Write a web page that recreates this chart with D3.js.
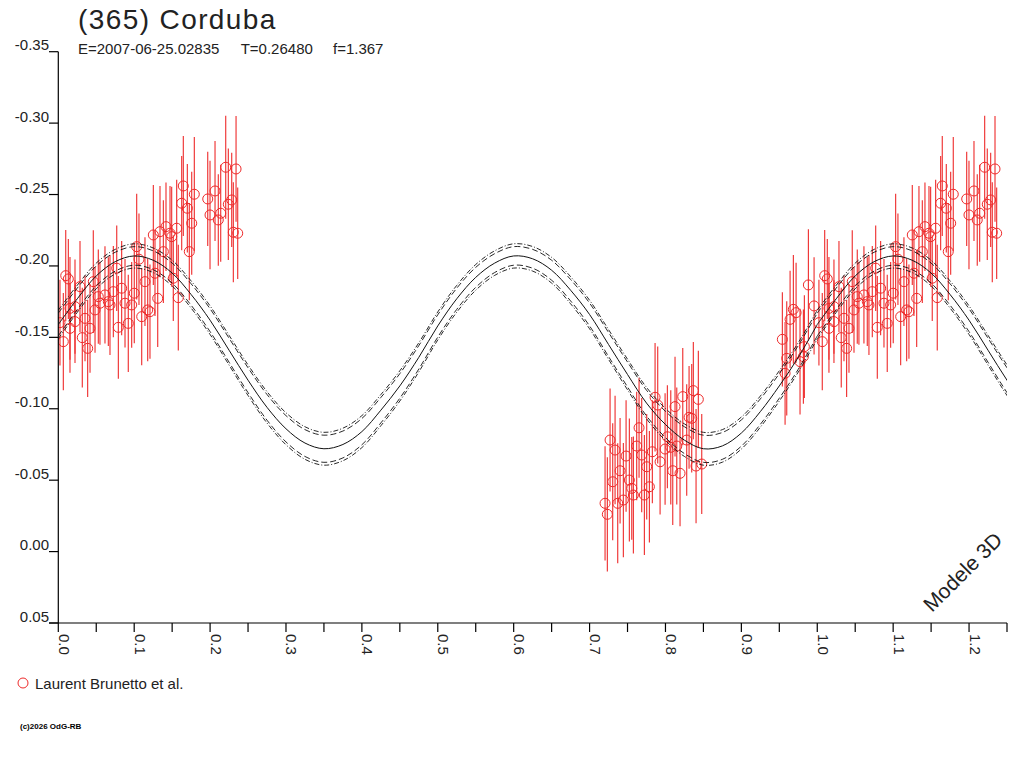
<!DOCTYPE html>
<html><head><meta charset="utf-8">
<script src="https://cdn.jsdelivr.net/npm/d3@7"></script>
<style>body{margin:0;background:#fff}</style>
</head><body>
<svg id="c" width="1024" height="768"></svg>
<script>
const titleText = "(365) Corduba";
const subtitleParts = ["E=2007-06-25.02835", "T=0.26480", "f=1.367"];
const legendLabel = "Laurent Brunetto et al.";
const modelLabel = "Modele 3D";
const credit = "(c)2026 OdG-RB";

const yTickValues = [-0.35, -0.30, -0.25, -0.20, -0.15, -0.10, -0.05, 0.00, 0.05];
const yTickLabels = ["-0.35", "-0.30", "-0.25", "-0.20", "-0.15", "-0.10", "-0.05", "0.00", "0.05"];
const xMajorTicks = [0.0, 0.1, 0.2, 0.3, 0.4, 0.5, 0.6, 0.7, 0.8, 0.9, 1.0, 1.1, 1.2];
const xTickLabels = ["0.0", "0.1", "0.2", "0.3", "0.4", "0.5", "0.6", "0.7", "0.8", "0.9", "1.0", "1.1", "1.2"];
const xMinorTicks = [0.05, 0.15, 0.25, 0.35, 0.45, 0.55, 0.65, 0.75, 0.85, 0.95, 1.05, 1.15, 1.25];

// observations: rotational phase, relative magnitude, error
const obsPhase = [
 0.0022,0.0066,0.0098,0.0132,0.0154,0.0154,0.0220,0.0220,0.0286,0.0316,
 0.0352,0.0387,0.0418,0.0461,0.0484,0.0527,0.0549,0.0615,0.0659,0.0681,
 0.0725,0.0770,0.0791,0.0835,0.0879,0.0922,0.0967,0.1001,0.1033,0.1063,
 0.1099,0.1142,0.1178,0.1208,0.1252,0.1274,0.1310,0.1340,0.1384,0.1419,
 0.1472,0.1494,0.1515,0.1560,0.1581,0.1626,0.1647,0.1700,0.1726,0.1758,
 0.1792,0.1969,0.1999,0.2065,0.2108,0.2140,0.2206,0.2240,0.2285,0.2306,
 0.2342,0.2364,
 0.7204,0.7234,0.7270,0.7305,0.7336,0.7371,0.7402,0.7445,0.7481,0.7524,
 0.7556,0.7577,0.7621,0.7652,0.7687,0.7722,0.7753,0.7788,0.7827,0.7863,
 0.7898,0.7929,0.7995,0.8025,0.8070,0.8096,0.8126,0.8149,0.8192,0.8228,
 0.8280,0.8311,0.8346,0.8367,0.8403,0.8433,0.8478,
 0.9540,0.9598,0.9576,0.9642,0.9685,0.9721,0.9773,0.9817,0.9830,0.9883,
 0.9958
];
const obsMag = [
 -0.1603,-0.1470,-0.1932,-0.1909,-0.1703,-0.1563,-0.1715,-0.1610,-0.1855,-0.1498,
 -0.1633,-0.1423,-0.1563,-0.1890,-0.1692,-0.1785,-0.1739,-0.1797,-0.1750,-0.1727,
 -0.1820,-0.1984,-0.1570,-0.1844,-0.1739,-0.1598,-0.1727,-0.1809,-0.2135,-0.2047,
 -0.1645,-0.1890,-0.1692,-0.1680,-0.2217,-0.1949,-0.1773,-0.2240,-0.2100,-0.2275,
 -0.2229,-0.2205,-0.1914,-0.2264,-0.1778,-0.2439,-0.2560,-0.2404,-0.2100,-0.2299,
 -0.2502,-0.2469,-0.2357,-0.2525,-0.2322,-0.2369,-0.2691,-0.2432,-0.2462,-0.2236,
 -0.2679,-0.2229,
 -0.0338,-0.0261,-0.0781,-0.0489,-0.0711,-0.0338,-0.0566,-0.0361,-0.0669,-0.0501,
 -0.0443,-0.0396,-0.0739,-0.0867,-0.0676,-0.0396,-0.0594,-0.0454,-0.0699,-0.1080,
 -0.1026,-0.0629,-0.0718,-0.0804,-0.0730,-0.0566,-0.1015,-0.0739,-0.0548,-0.1085,
 -0.0781,-0.0940,-0.0933,-0.1127,-0.0599,-0.1066,-0.0613,
 -0.1486,-0.1353,-0.1248,-0.1626,-0.1696,-0.1673,-0.1330,-0.1365,-0.1435,-0.1867,
 -0.1720
];
const obsErr = [
 0.030,0.034,0.032,0.028,0.036,0.031,0.033,0.029,0.032,0.035,
 0.030,0.034,0.031,0.036,0.030,0.033,0.029,0.034,0.031,0.035,
 0.032,0.030,0.036,0.033,0.031,0.034,0.030,0.035,0.037,0.032,
 0.034,0.031,0.036,0.033,0.035,0.030,0.034,0.032,0.036,0.031,
 0.033,0.035,0.030,0.034,0.037,0.033,0.035,0.031,0.034,0.036,
 0.040,0.033,0.038,0.035,0.032,0.034,0.036,0.039,0.033,0.035,
 0.037,0.032,
 0.040,0.040,0.036,0.041,0.038,0.042,0.037,0.040,0.039,0.043,
 0.036,0.041,0.038,0.035,0.040,0.042,0.037,0.039,0.036,0.038,
 0.041,0.037,0.039,0.036,0.040,0.038,0.035,0.041,0.037,0.034,
 0.039,0.036,0.038,0.034,0.040,0.034,0.035,
 0.033,0.040,0.036,0.034,0.038,0.035,0.037,0.033,0.036,0.039,
 0.034
];

// model light curve (one rotation) and its uncertainty spreads
const modelPhase = [
 0.000,0.025,0.050,0.075,0.100,0.125,0.150,0.175,0.200,0.225,
 0.250,0.275,0.300,0.325,0.350,0.375,0.400,0.425,0.450,0.475,
 0.500,0.525,0.550,0.575,0.600,0.625,0.650,0.675,0.700,0.725,
 0.750,0.775,0.800,0.825,0.850,0.875,0.900,0.925,0.950,0.975,1.000
];
const modelMag = [
 -0.159,-0.177,-0.193,-0.203,-0.207,-0.204,-0.195,-0.180,-0.162,-0.141,
 -0.120,-0.101,-0.086,-0.076,-0.072,-0.075,-0.084,-0.099,-0.116,-0.136,
 -0.158,-0.177,-0.192,-0.202,-0.207,-0.205,-0.197,-0.183,-0.166,-0.145,
 -0.124,-0.104,-0.089,-0.078,-0.072,-0.074,-0.083,-0.098,-0.116,-0.136,-0.159
];
const spreadInner = [
 0.0080,0.0075,0.0070,0.0066,0.0065,0.0066,0.0070,0.0075,0.0080,0.0084,
 0.0087,0.0090,0.0092,0.0094,0.0095,0.0094,0.0092,0.0089,0.0086,0.0082,
 0.0078,0.0074,0.0070,0.0066,0.0065,0.0066,0.0070,0.0075,0.0080,0.0084,
 0.0087,0.0090,0.0092,0.0094,0.0095,0.0094,0.0092,0.0089,0.0086,0.0083,0.0080
];
const spreadOuter = [
 0.0100,0.0095,0.0090,0.0086,0.0085,0.0086,0.0090,0.0095,0.0100,0.0104,
 0.0107,0.0110,0.0112,0.0114,0.0115,0.0114,0.0112,0.0109,0.0106,0.0102,
 0.0098,0.0094,0.0090,0.0086,0.0085,0.0086,0.0090,0.0095,0.0100,0.0104,
 0.0107,0.0110,0.0112,0.0114,0.0115,0.0114,0.0112,0.0109,0.0106,0.0103,0.0100
];
const cycleOffsets = [0, 1];

const svg = d3.select("#c");
const FONT = "'Liberation Sans', Arial, sans-serif";
const ink = "#222";
const red = "#ee2a2a";

const x = d3.scaleLinear().domain([0, 1.25]).range([58.3, 1007]);
const y = d3.scaleLinear().domain([-0.35, 0.05]).range([51.7, 623]);

svg.append("defs").append("clipPath").attr("id", "plot")
  .append("rect").attr("x", x(0)).attr("y", 0).attr("width", x(1.25) - x(0)).attr("height", y(0.05));

// observations (repeated at phase+1 where inside the domain)
const obs = [];
obsPhase.forEach((p, i) => {
  cycleOffsets.forEach(o => {
    const pp = p + o;
    if (pp >= 0 && pp <= 1.25) obs.push({p: pp, m: obsMag[i], e: obsErr[i]});
  });
});
const gObs = svg.append("g").attr("clip-path", "url(#plot)");
gObs.selectAll("line.err").data(obs).join("line")
  .attr("x1", d => x(d.p)).attr("x2", d => x(d.p))
  .attr("y1", d => y(d.m - d.e)).attr("y2", d => y(d.m + d.e))
  .attr("stroke", red).attr("stroke-width", 1.1);
gObs.selectAll("circle").data(obs).join("circle")
  .attr("cx", d => x(d.p)).attr("cy", d => y(d.m)).attr("r", 5)
  .attr("fill", "none").attr("stroke", red).attr("stroke-width", 1);

// model curves
const gModel = svg.append("g").attr("clip-path", "url(#plot)");
const curves = [
  {sign: 0, spread: null, dash: null},
  {sign: -1, spread: spreadInner, dash: "6,3"},
  {sign: 1, spread: spreadInner, dash: "6,3"},
  {sign: -1, spread: spreadOuter, dash: "5,2,1,2"},
  {sign: 1, spread: spreadOuter, dash: "5,2,1,2"}
];
cycleOffsets.forEach(o => {
  curves.forEach(c => {
    const pts = modelPhase.map((p, i) => [p + o, modelMag[i] + (c.spread ? c.sign * c.spread[i] : 0)]);
    const line = d3.line().x(d => x(d[0])).y(d => y(d[1])).curve(d3.curveCatmullRom.alpha(0.5));
    gModel.append("path").attr("d", line(pts)).attr("fill", "none")
      .attr("stroke", "#111").attr("stroke-width", c.dash ? 0.9 : 1)
      .attr("stroke-dasharray", c.dash);
  });
});

// axes
const gAx = svg.append("g").attr("stroke", "#000").attr("stroke-width", 1.2).attr("fill", "none");
gAx.append("line").attr("x1", x(0)).attr("x2", x(0)).attr("y1", y(-0.35)).attr("y2", y(0.05));
gAx.append("line").attr("x1", 49).attr("x2", x(1.25)).attr("y1", y(0.05)).attr("y2", y(0.05));
yTickValues.forEach(v => {
  gAx.append("line").attr("x1", 49).attr("x2", x(0)).attr("y1", y(v)).attr("y2", y(v));
});
xMajorTicks.concat(xMinorTicks).forEach(v => {
  gAx.append("line").attr("x1", x(v)).attr("x2", x(v)).attr("y1", y(0.05)).attr("y2", y(0.05) + 9);
});

const gT = svg.append("g").attr("font-family", FONT).attr("fill", ink);
yTickValues.forEach((v, i) => {
  gT.append("text").attr("x", 49).attr("y", y(v) - 1.5).attr("text-anchor", "end")
    .attr("font-size", 15).text(yTickLabels[i]);
});
xMajorTicks.forEach((v, i) => {
  gT.append("text").attr("transform", `translate(${x(v) + 0.5},${y(0.05) + 11}) rotate(90)`)
    .attr("font-size", 15).text(xTickLabels[i]);
});

gT.append("text").attr("x", 78).attr("y", 29).attr("font-size", 28).attr("letter-spacing", 1.4).text(titleText);
const subX = [78, 240.7, 333];
subtitleParts.forEach((s, i) => {
  gT.append("text").attr("x", subX[i]).attr("y", 54).attr("font-size", 15).text(s);
});

gT.append("text").attr("transform", "translate(932,613) rotate(-45)").attr("font-size", 21).text(modelLabel);

svg.append("circle").attr("cx", 23).attr("cy", 683).attr("r", 5).attr("fill", "none").attr("stroke", red).attr("stroke-width", 1);
gT.append("text").attr("x", 35).attr("y", 688.5).attr("font-size", 15).text(legendLabel);
gT.append("text").attr("x", 20).attr("y", 729).attr("font-size", 8).attr("font-weight", "bold").attr("fill", "#000").text(credit);
</script>
</body></html>
